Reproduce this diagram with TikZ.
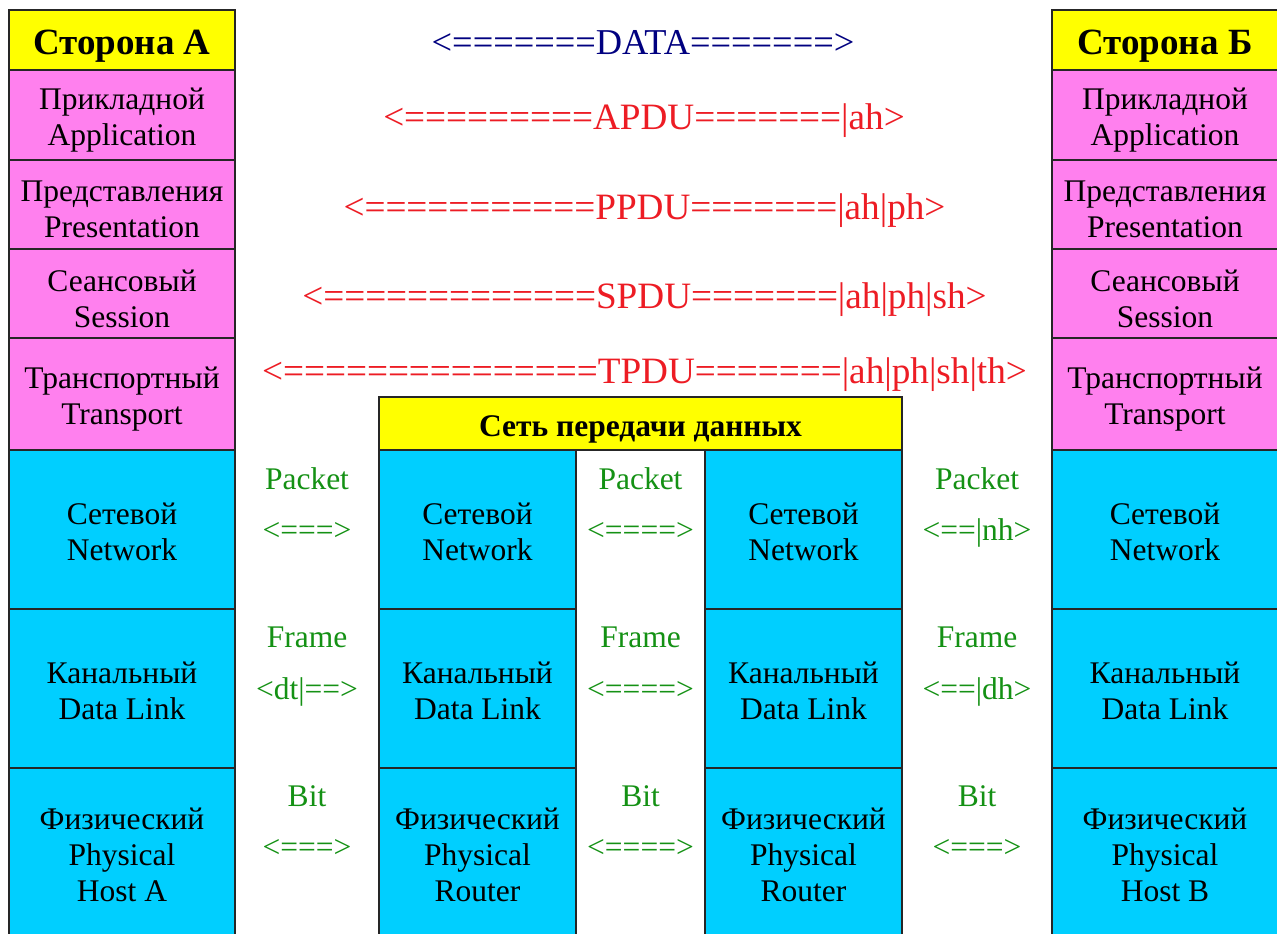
\documentclass[tikz,border=0pt]{standalone}
\usepackage{fontspec}
\setmainfont{Liberation Serif}
\definecolor{hdryellow}{RGB}{255,255,0}
\definecolor{upperpink}{RGB}{255,128,238}
\definecolor{lowercyan}{RGB}{0,207,255}
\definecolor{pdured}{RGB}{237,28,36}
\definecolor{linkgreen}{RGB}{20,145,20}
\definecolor{datanavy}{RGB}{0,0,128}
\tikzset{
  cell/.style={draw=black!85, line width=1.4pt, rectangle, inner sep=0pt, outer sep=0pt,
    anchor=north west},
  hdrcell/.style={cell, fill=hdryellow},
  upcell/.style={cell, fill=upperpink},
  lowcell/.style={cell, fill=lowercyan},
  celltext/.style={align=center, inner sep=0pt, font=\fontsize{31.5}{36}\selectfont},
  twoline/.style={celltext, yshift=-5pt},
  lowtwoline/.style={celltext, yshift=-2.5pt},
  threeline/.style={celltext, yshift=-0.5pt},
  sidetitle/.style={inner sep=0pt, yshift=-6pt, font=\bfseries\fontsize{37}{40}\selectfont},
  nettitle/.style={inner sep=0pt, yshift=-5.5pt, font=\bfseries\fontsize{31.5}{36}\selectfont},
  pdu/.style={text=pdured, font=\fontsize{37.2}{40}\selectfont, anchor=base, inner sep=0pt},
  datalabel/.style={text=datanavy, font=\fontsize{36.4}{40}\selectfont, anchor=base, inner sep=0pt},
  unitlabel/.style={text=linkgreen, font=\fontsize{31.5}{36}\selectfont, anchor=base, inner sep=0pt}
}
\begin{document}
\begin{tikzpicture}[x=1pt, y=-1pt]
  \clip (0,0) rectangle (1277,934);
  \fill[white] (0,0) rectangle (1277,934);

  % ---- Host A stack ----
  \node[hdrcell, minimum width=226pt, minimum height=60pt,
    label={[sidetitle]center:Сторона А}] (hA) at (9,10) {};
  \node[upcell, minimum width=226pt, minimum height=90pt,
    label={[twoline]center:{Прикладной\\Application}}] (appA) at (9,70) {};
  \node[upcell, minimum width=226pt, minimum height=89pt,
    label={[twoline]center:{Представления\\Presentation}}] (preA) at (9,160) {};
  \node[upcell, minimum width=226pt, minimum height=89pt,
    label={[twoline]center:{Сеансовый\\Session}}] (sesA) at (9,249) {};
  \node[upcell, minimum width=226pt, minimum height=112pt,
    label={[twoline]center:{Транспортный\\Transport}}] (trA) at (9,338) {};
  \node[lowcell, minimum width=226pt, minimum height=159pt,
    label={[lowtwoline]center:{Сетевой\\Network}}] (netA) at (9,450) {};
  \node[lowcell, minimum width=226pt, minimum height=159pt,
    label={[lowtwoline]center:{Канальный\\Data Link}}] (dlA) at (9,609) {};
  \node[lowcell, minimum width=226pt, minimum height=172pt,
    label={[threeline]center:{Физический\\Physical\\Host A}}] (phA) at (9,768) {};

  % ---- Host B stack ----
  \node[hdrcell, minimum width=226pt, minimum height=60pt,
    label={[sidetitle]center:Сторона Б}] (hB) at (1052,10) {};
  \node[upcell, minimum width=226pt, minimum height=90pt,
    label={[twoline]center:{Прикладной\\Application}}] (appB) at (1052,70) {};
  \node[upcell, minimum width=226pt, minimum height=89pt,
    label={[twoline]center:{Представления\\Presentation}}] (preB) at (1052,160) {};
  \node[upcell, minimum width=226pt, minimum height=89pt,
    label={[twoline]center:{Сеансовый\\Session}}] (sesB) at (1052,249) {};
  \node[upcell, minimum width=226pt, minimum height=112pt,
    label={[twoline]center:{Транспортный\\Transport}}] (trB) at (1052,338) {};
  \node[lowcell, minimum width=226pt, minimum height=159pt,
    label={[lowtwoline]center:{Сетевой\\Network}}] (netB) at (1052,450) {};
  \node[lowcell, minimum width=226pt, minimum height=159pt,
    label={[lowtwoline]center:{Канальный\\Data Link}}] (dlB) at (1052,609) {};
  \node[lowcell, minimum width=226pt, minimum height=172pt,
    label={[threeline]center:{Физический\\Physical\\Host B}}] (phB) at (1052,768) {};

  % ---- Data network with two routers ----
  \node[hdrcell, minimum width=523pt, minimum height=53pt,
    label={[nettitle]center:Сеть передачи данных}] (net) at (379,397) {};
  \node[lowcell, minimum width=197pt, minimum height=159pt,
    label={[lowtwoline]center:{Сетевой\\Network}}] (netR1) at (379,450) {};
  \node[lowcell, minimum width=197pt, minimum height=159pt,
    label={[lowtwoline]center:{Канальный\\Data Link}}] (dlR1) at (379,609) {};
  \node[lowcell, minimum width=197pt, minimum height=172pt,
    label={[threeline]center:{Физический\\Physical\\Router}}] (phR1) at (379,768) {};
  \node[lowcell, minimum width=197pt, minimum height=159pt,
    label={[lowtwoline]center:{Сетевой\\Network}}] (netR2) at (705,450) {};
  \node[lowcell, minimum width=197pt, minimum height=159pt,
    label={[lowtwoline]center:{Канальный\\Data Link}}] (dlR2) at (705,609) {};
  \node[lowcell, minimum width=197pt, minimum height=172pt,
    label={[threeline]center:{Физический\\Physical\\Router}}] (phR2) at (705,768) {};

  % ---- End-to-end protocol data units ----
  \node[datalabel] (data) at (643,55) {<=======DATA=======>};
  \node[pdu] (apdu) at (644,129) {<=========APDU=======|ah>};
  \node[pdu] (ppdu) at (644.5,219) {<===========PPDU=======|ah|ph>};
  \node[pdu] (spdu) at (644.5,308) {<=============SPDU=======|ah|ph|sh>};
  \node[pdu] (tpdu) at (644.5,383) {<===============TPDU=======|ah|ph|sh|th>};

  % ---- Hop-by-hop units ----
  \node[unitlabel] (pktA) at (307,489) {Packet};
  \node[unitlabel] (pktAx) at (307,540) {<===>};
  \node[unitlabel] (frmA) at (307,647) {Frame};
  \node[unitlabel] (frmAx) at (307,699) {<dt|==>};
  \node[unitlabel] (bitA) at (307,806) {Bit};
  \node[unitlabel] (bitAx) at (307,857) {<===>};

  \node[unitlabel] (pktM) at (640.5,489) {Packet};
  \node[unitlabel] (pktMx) at (640.5,540) {<====>};
  \node[unitlabel] (frmM) at (640.5,647) {Frame};
  \node[unitlabel] (frmMx) at (640.5,699) {<====>};
  \node[unitlabel] (bitM) at (640.5,806) {Bit};
  \node[unitlabel] (bitMx) at (640.5,857) {<====>};

  \node[unitlabel] (pktB) at (977,489) {Packet};
  \node[unitlabel] (pktBx) at (977,540) {<==|nh>};
  \node[unitlabel] (frmB) at (977,647) {Frame};
  \node[unitlabel] (frmBx) at (977,699) {<==|dh>};
  \node[unitlabel] (bitB) at (977,806) {Bit};
  \node[unitlabel] (bitBx) at (977,857) {<===>};
\end{tikzpicture}
\end{document}
